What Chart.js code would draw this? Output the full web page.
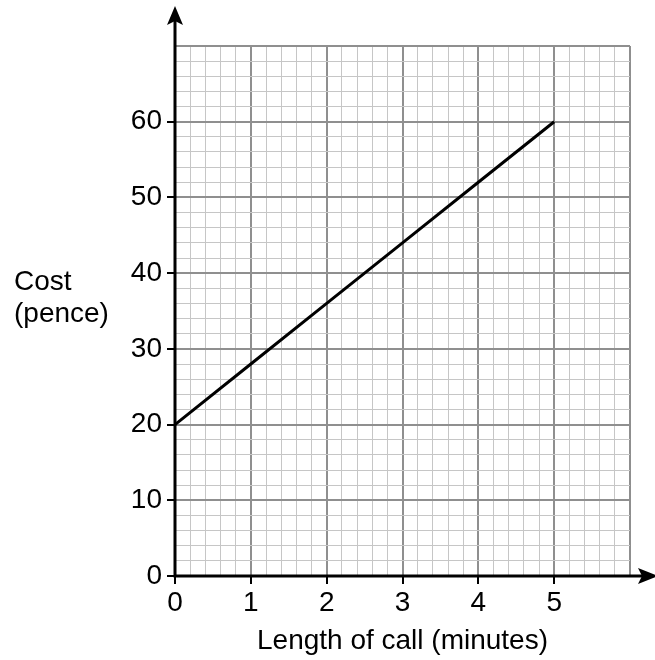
<!DOCTYPE html>
<html lang="en">
<head>
<meta charset="UTF-8">
<title>Cost of call</title>
<script src="https://cdn.jsdelivr.net/npm/chart.js"></script>
<style>
  html, body { margin: 0; padding: 0; background: #fff; }
  #wrap { width: 655px; height: 660px; position: relative; }
</style>
</head>
<body>
<div id="wrap"><canvas id="myChart"></canvas></div>
<script>
// data
var minutes = [0, 1, 2, 3, 4, 5];
var costPence = [20, 28, 36, 44, 52, 60];
var xTickLabels = [0, 1, 2, 3, 4, 5];
var yTickLabels = [0, 10, 20, 30, 40, 50, 60];

var FONT = '"Liberation Sans", Arial, sans-serif';
var minorGrid = '#c6c6c6';
var majorGrid = '#8f8f8f';

function isMajor(v, step) {
    var q = v / step;
    return Math.abs(q - Math.round(q)) < 1e-6;
}
function hasLabel(v, list) {
    return list.some(function (t) { return Math.abs(t - v) < 1e-6; });
}

var pts = minutes.map(function (m, i) { return { x: m, y: costPence[i] }; });

// axis lines with arrow heads, and the horizontal y title
var axesArrows = {
    id: 'axesArrows',
    afterDatasetsDraw: function (chart) {
        var ctx = chart.ctx;
        var x = chart.scales.x, y = chart.scales.y;
        var x0 = x.getPixelForValue(0), y0 = y.getPixelForValue(0);
        ctx.save();
        ctx.strokeStyle = '#000';
        ctx.fillStyle = '#000';
        ctx.lineWidth = 3;
        ctx.beginPath();
        ctx.moveTo(x0, y0 + 1.5);
        ctx.lineTo(x0, 20);
        ctx.moveTo(x0 - 1.5, y0);
        ctx.lineTo(642, y0);
        ctx.stroke();

        // up arrow
        ctx.beginPath();
        ctx.moveTo(x0, 6);
        ctx.lineTo(x0 + 8, 25);
        ctx.lineTo(x0, 21);
        ctx.lineTo(x0 - 8, 25);
        ctx.closePath();
        ctx.fill();
        // right arrow
        ctx.beginPath();
        ctx.moveTo(658, y0);
        ctx.lineTo(638, y0 - 8);
        ctx.lineTo(642, y0);
        ctx.lineTo(638, y0 + 8);
        ctx.closePath();
        ctx.fill();

        ctx.font = '28px ' + FONT;
        ctx.textAlign = 'left';
        ctx.textBaseline = 'alphabetic';
        ctx.fillText('Cost', 14, 290);
        ctx.fillText('(pence)', 14, 322);
        ctx.restore();
    }
};

new Chart(document.getElementById('myChart'), {
    type: 'scatter',
    data: {
        datasets: [{
            data: pts,
            showLine: true,
            borderColor: '#000',
            borderWidth: 3,
            pointRadius: 0,
            pointHoverRadius: 0,
            fill: false
        }]
    },
    options: {
        responsive: true,
        maintainAspectRatio: false,
        animation: false,
        events: [],
        layout: { padding: { top: 46, right: 25, left: 0, bottom: 0 } },
        plugins: { legend: { display: false }, tooltip: { enabled: false } },
        scales: {
            x: {
                type: 'linear',
                min: 0,
                max: 6,
                afterFit: function (s) { s.height = 84; },
                border: { display: false },
                grid: {
                    color: function (c) { return isMajor(c.tick.value, 1) ? majorGrid : minorGrid; },
                    lineWidth: function (c) { return isMajor(c.tick.value, 1) ? 2 : 1; },
                    tickColor: function (c) { return hasLabel(c.tick.value, xTickLabels) ? '#000' : 'rgba(0,0,0,0)'; },
                    tickWidth: 2,
                    tickLength: 8
                },
                ticks: {
                    stepSize: 0.2,
                    autoSkip: false,
                    maxRotation: 0,
                    padding: 2,
                    color: '#000',
                    font: { family: FONT, size: 28 },
                    callback: function (v) { return hasLabel(v, xTickLabels) ? String(Math.round(v)) : ''; }
                },
                title: {
                    display: true,
                    text: 'Length of call (minutes)',
                    color: '#000',
                    font: { family: FONT, size: 28 },
                    padding: { top: 0, bottom: 2 }
                }
            },
            y: {
                type: 'linear',
                min: 0,
                max: 70,
                afterFit: function (s) { s.width = 175; },
                border: { display: false },
                grid: {
                    color: function (c) { return isMajor(c.tick.value, 10) ? majorGrid : minorGrid; },
                    lineWidth: function (c) { return isMajor(c.tick.value, 10) ? 2 : 1; },
                    tickColor: function (c) { return hasLabel(c.tick.value, yTickLabels) ? '#000' : 'rgba(0,0,0,0)'; },
                    tickWidth: 2,
                    tickLength: 8
                },
                ticks: {
                    stepSize: 2,
                    autoSkip: false,
                    padding: 5,
                    color: '#000',
                    font: { family: FONT, size: 28 },
                    callback: function (v) { return hasLabel(v, yTickLabels) ? String(Math.round(v)) : ''; }
                }
            }
        }
    },
    plugins: [axesArrows]
});
</script>
</body>
</html>
